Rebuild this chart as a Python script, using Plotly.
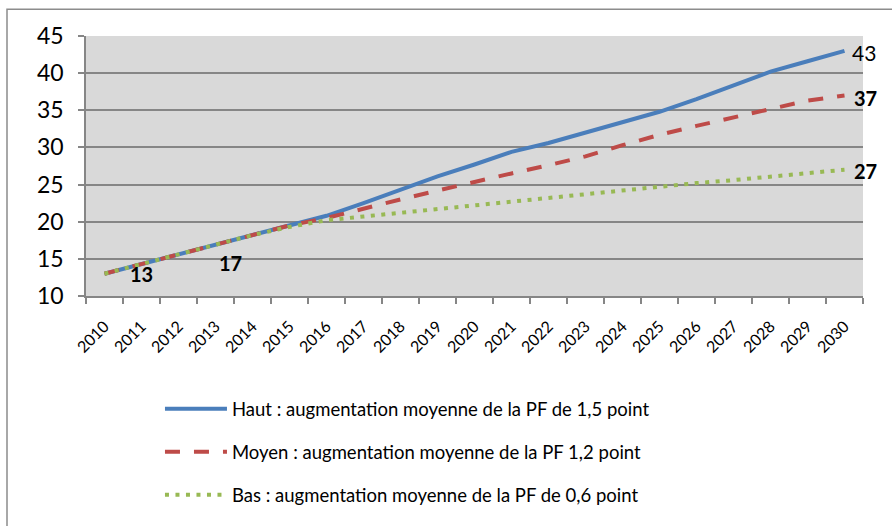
import plotly.graph_objects as go

years = [str(y) for y in range(2010, 2031)]
haut = [13.0, 14.3, 15.6, 17.0, 18.3, 19.6, 20.8, 22.5, 24.3, 26.1, 27.7, 29.4,
        30.6, 32.0, 33.5, 34.8, 36.5, 38.4, 40.2, 41.6, 43.0]
moyen = [13.0, 14.3, 15.6, 17.0, 18.3, 19.5, 20.5, 21.8, 23.0, 24.2, 25.4, 26.5,
         27.6, 28.8, 30.3, 31.7, 32.9, 34.0, 35.2, 36.3, 37.0]
bas = [13.0, 14.3, 15.6, 17.0, 18.2, 19.3, 20.2, 20.7, 21.2, 21.7, 22.3, 22.8,
       23.3, 23.8, 24.3, 24.7, 25.2, 25.6, 26.1, 26.5, 27.0]

names = ["Haut : augmentation moyenne de la PF de 1,5 point",
         "Moyen : augmentation moyenne de la PF 1,2 point",
         "Bas : augmentation moyenne de la PF de 0,6 point"]
colors = ["#4a7ebb", "#be4b48", "#98b954"]
dashes = ["solid", "15px,14px", "4px,6.5px"]

FONT = "Lato, 'Open Sans', sans-serif"

fig = go.Figure()
for i, (name, vals) in enumerate(zip(names, [haut, moyen, bas])):
    fig.add_trace(go.Scatter(
        x=years, y=vals, mode="lines", name=name,
        legendgroup=f"g{i}",
        line=dict(color=colors[i], width=4, dash=dashes[i]),
    ))

annotations = [
    dict(x=1, y=12.9, xref="x", yref="y", text="<b>13</b>", showarrow=False,
         font=dict(size=20, color="black", family=FONT)),
    dict(x=3.4, y=14.5, xref="x", yref="y", text="<b>17</b>", showarrow=False,
         font=dict(size=20, color="black", family=FONT)),
    dict(x=1.019, y=haut[-1] - 0.2, xref="paper", yref="y", text="43", showarrow=False,
         font=dict(size=21, color="black", family=FONT)),
    dict(x=1.021, y=moyen[-1] - 0.3, xref="paper", yref="y", text="<b>37</b>", showarrow=False,
         font=dict(size=20, color="black", family=FONT)),
    dict(x=1.021, y=bas[-1] - 0.2, xref="paper", yref="y", text="<b>27</b>", showarrow=False,
         font=dict(size=20, color="black", family=FONT)),
]

fig.update_layout(
    width=892, height=526,
    margin=dict(l=86, r=29, t=36, b=227),
    paper_bgcolor="white",
    plot_bgcolor="#d9d9d9",
    font=dict(family=FONT, color="black"),
    showlegend=True,
    legend=dict(
        x=0.0952, y=-0.362, xanchor="left", yanchor="top",
        font=dict(size=18.5, family=FONT, color="black"),
        itemwidth=62, tracegroupgap=16,
        bgcolor="rgba(0,0,0,0)",
    ),
    xaxis=dict(
        type="category", tickson="boundaries",
        showgrid=False, showline=True, linecolor="#868686", linewidth=1.5,
        ticks="outside", ticklen=6, tickcolor="#868686", tickwidth=1.5,
        tickangle=-45, tickfont=dict(size=16, family=FONT, color="black"),
        ticklabelstandoff=13,
        range=[-0.5, 20.5], automargin=False,
    ),
    yaxis=dict(
        range=[10, 45], dtick=5, tick0=10,
        showgrid=True, gridcolor="#868686", gridwidth=1.5,
        showline=True, linecolor="#868686", linewidth=1.5,
        ticks="outside", ticklen=6, tickcolor="#868686", tickwidth=1.5,
        tickfont=dict(size=23, family=FONT, color="black"),
        ticklabelstandoff=10,
        zeroline=False, automargin=False,
    ),
    annotations=annotations,
    shapes=[dict(type="rect", xref="paper", yref="paper",
                 x0=(7 - 86) / 777, x1=(900 - 86) / 777,
                 y0=(299 - 540) / 263, y1=(299 - 9) / 263,
                 line=dict(color="#8c8c8c", width=1.5), fillcolor="rgba(0,0,0,0)",
                 layer="below")],
)

fig.write_html("out.html",
               config={"displayModeBar": False},
               post_script="document.body.style.margin='0px';document.body.style.padding='0px';")
